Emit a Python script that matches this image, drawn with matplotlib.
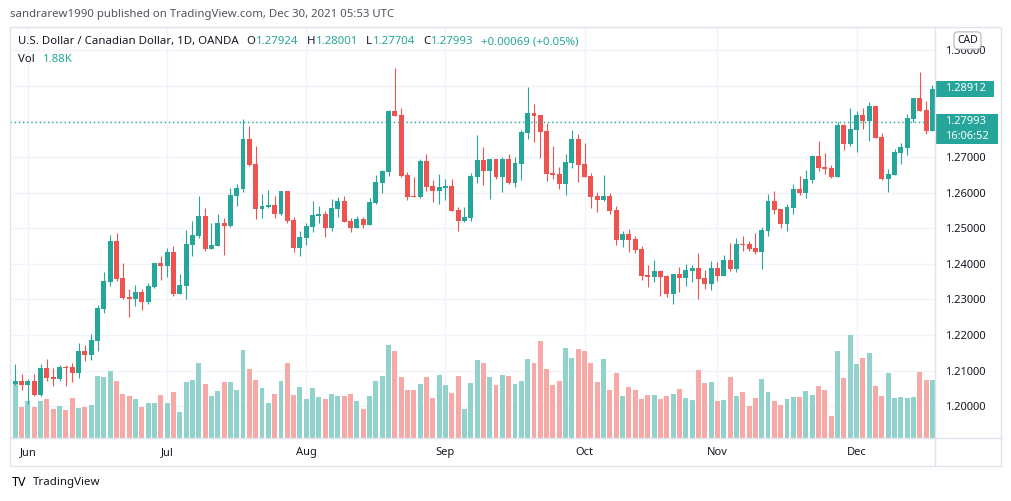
import numpy as np
import pandas as pd
import matplotlib
matplotlib.use('Agg')
import matplotlib.pyplot as plt
from matplotlib.transforms import blended_transform_factory
from matplotlib.offsetbox import DrawingArea, AnnotationBbox
from matplotlib.patches import Rectangle
from matplotlib.lines import Line2D
from matplotlib.text import Text, Annotation

plt.rcParams['font.family'] = ['Noto Sans', 'DejaVu Sans']

# USD/CAD daily, OANDA
opens = [1.2123, 1.2062, 1.2071, 1.2059, 1.2071, 1.2031, 1.2107, 1.2082, 1.2076, 1.2110,
         1.2110, 1.2093, 1.2155, 1.2144, 1.2183, 1.2273, 1.2349, 1.2464, 1.2360, 1.2307,
         1.2301, 1.2321, 1.2293, 1.2335, 1.2402, 1.2394, 1.2433, 1.2315, 1.2338, 1.2453,
         1.2478, 1.2534, 1.2441, 1.2450, 1.2515, 1.2506, 1.2590, 1.2610, 1.2751, 1.2680,
         1.2554, 1.2559, 1.2565, 1.2540, 1.2604, 1.2523, 1.2444, 1.2472, 1.2503, 1.2534,
         1.2540, 1.2500, 1.2554, 1.2576, 1.2520, 1.2500, 1.2526, 1.2509, 1.2571, 1.2627,
         1.2658, 1.2829, 1.2818, 1.2649, 1.2590, 1.2588, 1.2689, 1.2619, 1.2604, 1.2613,
         1.2619, 1.2551, 1.2520, 1.2529, 1.2644, 1.2692, 1.2661, 1.2694, 1.2644, 1.2694,
         1.2627, 1.2680, 1.2767, 1.2824, 1.2818, 1.2773, 1.2655, 1.2652, 1.2624, 1.2683,
         1.2751, 1.2680, 1.2647, 1.2590, 1.2579, 1.2590, 1.2551, 1.2467, 1.2484, 1.2470,
         1.2441, 1.2368, 1.2363, 1.2380, 1.2366, 1.2315, 1.2371, 1.2360, 1.2380, 1.2388,
         1.2360, 1.2343, 1.2388, 1.2366, 1.2411, 1.2385, 1.2456, 1.2456, 1.2444, 1.2433,
         1.2492, 1.2576, 1.2554, 1.2512, 1.2557, 1.2610, 1.2599, 1.2635, 1.2703, 1.2672,
         1.2669, 1.2644, 1.2790, 1.2737, 1.2776, 1.2818, 1.2801, 1.2843, 1.2756, 1.2638,
         1.2649, 1.2711, 1.2725, 1.2807, 1.2866, 1.2832, 1.2773]
highs = [1.2135, 1.2118, 1.2090, 1.2076, 1.2090, 1.2118, 1.2132, 1.2107, 1.2116, 1.2116,
         1.2121, 1.2177, 1.2172, 1.2203, 1.2284, 1.2377, 1.2481, 1.2486, 1.2402, 1.2329,
         1.2340, 1.2329, 1.2346, 1.2402, 1.2422, 1.2444, 1.2450, 1.2371, 1.2495, 1.2520,
         1.2590, 1.2557, 1.2515, 1.2540, 1.2529, 1.2613, 1.2624, 1.2807, 1.2787, 1.2731,
         1.2596, 1.2607, 1.2590, 1.2604, 1.2604, 1.2531, 1.2492, 1.2515, 1.2576, 1.2562,
         1.2548, 1.2582, 1.2588, 1.2590, 1.2529, 1.2534, 1.2531, 1.2585, 1.2649, 1.2663,
         1.2832, 1.2950, 1.2838, 1.2658, 1.2644, 1.2694, 1.2708, 1.2635, 1.2652, 1.2638,
         1.2638, 1.2559, 1.2559, 1.2655, 1.2762, 1.2728, 1.2694, 1.2694, 1.2700, 1.2708,
         1.2700, 1.2776, 1.2897, 1.2849, 1.2818, 1.2796, 1.2731, 1.2672, 1.2708, 1.2776,
         1.2765, 1.2739, 1.2655, 1.2602, 1.2649, 1.2599, 1.2562, 1.2492, 1.2498, 1.2478,
         1.2450, 1.2397, 1.2411, 1.2382, 1.2368, 1.2371, 1.2391, 1.2399, 1.2397, 1.2430,
         1.2382, 1.2408, 1.2405, 1.2425, 1.2458, 1.2472, 1.2478, 1.2464, 1.2486, 1.2503,
         1.2596, 1.2604, 1.2554, 1.2568, 1.2624, 1.2647, 1.2663, 1.2706, 1.2745, 1.2711,
         1.2678, 1.2798, 1.2793, 1.2838, 1.2829, 1.2838, 1.2855, 1.2843, 1.2767, 1.2666,
         1.2722, 1.2739, 1.2821, 1.2866, 1.2939, 1.2857, 1.2902]
lows = [1.2057, 1.2059, 1.2045, 1.2006, 1.2028, 1.2028, 1.2071, 1.2057, 1.2071, 1.2057,
        1.2068, 1.2079, 1.2127, 1.2130, 1.2155, 1.2262, 1.2338, 1.2352, 1.2301, 1.2250,
        1.2281, 1.2270, 1.2287, 1.2332, 1.2354, 1.2363, 1.2309, 1.2315, 1.2301, 1.2422,
        1.2472, 1.2436, 1.2441, 1.2450, 1.2425, 1.2503, 1.2562, 1.2602, 1.2675, 1.2526,
        1.2529, 1.2557, 1.2529, 1.2537, 1.2515, 1.2433, 1.2422, 1.2453, 1.2489, 1.2515,
        1.2475, 1.2492, 1.2531, 1.2517, 1.2489, 1.2500, 1.2500, 1.2509, 1.2568, 1.2599,
        1.2647, 1.2815, 1.2644, 1.2579, 1.2588, 1.2585, 1.2604, 1.2574, 1.2568, 1.2579,
        1.2548, 1.2492, 1.2517, 1.2520, 1.2627, 1.2621, 1.2582, 1.2638, 1.2602, 1.2624,
        1.2616, 1.2635, 1.2751, 1.2742, 1.2697, 1.2633, 1.2638, 1.2610, 1.2593, 1.2669,
        1.2630, 1.2644, 1.2557, 1.2545, 1.2576, 1.2540, 1.2453, 1.2447, 1.2433, 1.2430,
        1.2354, 1.2335, 1.2349, 1.2309, 1.2307, 1.2287, 1.2321, 1.2338, 1.2349, 1.2301,
        1.2329, 1.2326, 1.2352, 1.2366, 1.2380, 1.2377, 1.2436, 1.2436, 1.2427, 1.2385,
        1.2478, 1.2540, 1.2500, 1.2492, 1.2540, 1.2593, 1.2585, 1.2627, 1.2661, 1.2652,
        1.2641, 1.2644, 1.2720, 1.2731, 1.2714, 1.2779, 1.2745, 1.2753, 1.2635, 1.2602,
        1.2649, 1.2680, 1.2706, 1.2798, 1.2829, 1.2765, 1.2773]
closes = [1.2062, 1.2071, 1.2059, 1.2071, 1.2031, 1.2107, 1.2079, 1.2076, 1.2110, 1.2107,
          1.2093, 1.2155, 1.2144, 1.2186, 1.2276, 1.2352, 1.2464, 1.2357, 1.2304, 1.2301,
          1.2321, 1.2293, 1.2338, 1.2402, 1.2394, 1.2433, 1.2315, 1.2340, 1.2456, 1.2481,
          1.2534, 1.2441, 1.2453, 1.2515, 1.2506, 1.2593, 1.2613, 1.2751, 1.2678, 1.2554,
          1.2562, 1.2565, 1.2540, 1.2604, 1.2520, 1.2444, 1.2475, 1.2506, 1.2537, 1.2540,
          1.2500, 1.2557, 1.2576, 1.2517, 1.2500, 1.2526, 1.2509, 1.2574, 1.2630, 1.2661,
          1.2829, 1.2815, 1.2647, 1.2588, 1.2588, 1.2689, 1.2616, 1.2604, 1.2616, 1.2619,
          1.2548, 1.2520, 1.2531, 1.2647, 1.2692, 1.2661, 1.2694, 1.2644, 1.2694, 1.2627,
          1.2683, 1.2770, 1.2824, 1.2815, 1.2770, 1.2652, 1.2649, 1.2624, 1.2686, 1.2751,
          1.2678, 1.2644, 1.2588, 1.2579, 1.2590, 1.2548, 1.2467, 1.2484, 1.2467, 1.2439,
          1.2366, 1.2363, 1.2380, 1.2363, 1.2315, 1.2371, 1.2360, 1.2382, 1.2388, 1.2357,
          1.2343, 1.2388, 1.2366, 1.2411, 1.2385, 1.2456, 1.2453, 1.2441, 1.2433, 1.2495,
          1.2576, 1.2551, 1.2512, 1.2559, 1.2610, 1.2599, 1.2638, 1.2703, 1.2669, 1.2666,
          1.2644, 1.2790, 1.2737, 1.2779, 1.2818, 1.2801, 1.2843, 1.2753, 1.2638, 1.2652,
          1.2714, 1.2728, 1.2810, 1.2866, 1.2829, 1.2773, 1.2891]
# volume, thousands
volumes = [88, 110, 62, 74, 62, 74, 78, 58, 64, 56, 80, 60, 62, 66, 124, 122, 134, 114, 88, 84,
           78, 62, 70, 70, 86, 70, 92, 52, 112, 116, 150, 108, 84, 94, 112, 112, 96, 176, 138, 116,
           100, 70, 88, 114, 150, 86, 102, 78, 100, 82, 78, 88, 84, 84, 88, 74, 58, 84, 114, 124,
           186, 174, 122, 96, 96, 108, 122, 80, 126, 106, 90, 124, 58, 110, 156, 150, 122, 106, 126, 124,
           108, 114, 158, 150, 194, 138, 106, 114, 180, 160, 178, 174, 150, 112, 158, 96, 130, 84, 102, 96,
           78, 86, 86, 78, 84, 88, 98, 80, 76, 136, 110, 112, 74, 76, 122, 84, 92, 64, 80, 118,
           92, 74, 66, 78, 82, 82, 94, 86, 104, 96, 44, 174, 120, 206, 148, 160, 170, 104, 84, 130,
           80, 82, 80, 82, 132, 116, 116]
dates = pd.bdate_range('2021-05-27', periods=len(closes))

# current (Dec 30) bar shown in the legend
cur_ohlc = ['1.27924', '1.28001', '1.27704', '1.27993']
cur_change = '+0.00069 (+0.05%)'
cur_vol = '1.88K'
last_close = 1.27993
last_visible = 1.28912

TEAL = '#26a69a'
RED = '#ef5350'
VOL_UP = '#92d2cc'
VOL_DN = '#f7a9a7'
GRID = '#f0f3fa'
FRAME = '#e0e3eb'
TXT = '#131722'
FS = 8.2

W, H = 1012, 501
fig = plt.figure(figsize=(W / 100, H / 100), dpi=100)


def fx(px):
    return px / W


def fy(py):
    return 1 - py / H


o = np.array(opens)
hi = np.array(highs)
lo = np.array(lows)
c = np.array(closes)
x = np.arange(len(c))
up = c >= o

ax_vol = fig.add_axes([fx(10), fy(437.7), (935 - 10) / W, (437.7 - 26.7) / H])
ax = ax_vol.twinx()

# month starts
month_pos = [i for i in range(1, len(dates)) if dates[i].month != dates[i - 1].month]
month_lab = [dates[i].strftime('%b') for i in month_pos]

price_ticks = np.round(np.arange(1.20, 1.3001, 0.01), 2)

# grid (under volume)
tr = blended_transform_factory(ax_vol.transAxes, ax.transData)
for p in price_ticks:
    ax_vol.add_line(Line2D([0, 1], [p, p], transform=tr, color=GRID, lw=1, zorder=0))
for m in month_pos:
    ax_vol.axvline(m, color=GRID, lw=1, zorder=0)

ax_vol.bar(x, volumes, width=0.78, color=np.where(up, VOL_UP, VOL_DN), lw=0, zorder=2)
ax_vol.set_ylim(0, 822)
ax_vol.set_yticks([])
ax_vol.set_xticks(month_pos, month_lab)
ax_vol.tick_params(axis='x', length=0, pad=6.5, labelsize=8, labelcolor=TXT)

# candles
cols = np.where(up, TEAL, RED)
ax.vlines(x, lo, hi, colors=cols, lw=0.8, zorder=3)
ax.bar(x, np.maximum(np.abs(c - o), 0.0003), bottom=np.minimum(o, c), width=0.78,
       color=cols, lw=0, zorder=4)
ax.axhline(last_close, color=TEAL, lw=1, ls=(0, (1, 2)), zorder=5)

ax.set_xlim(0.16, 146.4)
ax.set_ylim(1.19115, 1.3066)
ax.set_yticks(price_ticks, ['%.5f' % p for p in price_ticks])
ax.tick_params(axis='y', length=0, pad=7.2, labelsize=8, labelcolor=TXT)
for a in (ax, ax_vol):
    for s in a.spines.values():
        s.set_visible(False)


def price_tag(price, lines, w, h, first_h):
    k = 72 / fig.dpi
    da = DrawingArea(w * k, h * k, 0, 0)
    da.add_artist(Rectangle((0, 0), w * k, h * k, fc=TEAL, ec='none'))
    for j, s in enumerate(lines):
        yc = h - first_h / 2 - j * 14.5
        da.add_artist(Text(10 * k, yc * k, s, color='white', fontsize=8,
                           fontweight='bold' if j == 0 else 'normal',
                           va='center', ha='left'))
    ab = AnnotationBbox(da, (1.0, price),
                        xycoords=blended_transform_factory(ax.transAxes, ax.transData),
                        box_alignment=(0, 1 - first_h / 2 / h), frameon=False, pad=0,
                        annotation_clip=False, zorder=10)
    ax.add_artist(ab)


price_tag(last_visible, ['%.5f' % last_visible], 59, 15.6, 15.6)
price_tag(last_close, ['%.5f' % last_close, '16:06:52'], 63, 30, 15.2)

# frame
fig.add_artist(Rectangle((fx(10), fy(466)), (1001 - 10) / W, (466 - 26.7) / H,
                         transform=fig.transFigure, fill=False, ec=FRAME, lw=1))
fig.add_artist(Line2D([fx(935), fx(935)], [fy(26.7), fy(466)],
                      transform=fig.transFigure, color=FRAME, lw=1))
fig.add_artist(Line2D([fx(10), fx(1001)], [fy(437.7), fy(437.7)],
                      transform=fig.transFigure, color=FRAME, lw=1))

fig.text(fx(967.5), fy(40.5), 'CAD', ha='center', va='center', fontsize=7.5, color=TXT,
         bbox=dict(boxstyle='round,pad=0.3,rounding_size=0.4', fc='white', ec='#b2b5be', lw=0.8),
         zorder=20)

# header
fig.text(fx(10), fy(15), 'sandrarew1990 published on TradingView.com, Dec 30, 2021 05:53 UTC',
         va='center', fontsize=FS, color='#50535e')


def legend_line(x0, y0, parts):
    # each piece placed right after the previous one
    prev = fig.text(fx(x0), fy(y0), parts[0][0], color=parts[0][1], fontsize=FS, va='center')
    for s, col, gap in parts[1:]:
        prev = fig.add_artist(Annotation(
            s, xy=(1, 0), xycoords=prev, xytext=(gap, 0), textcoords='offset points',
            va='bottom', ha='left', color=col, fontsize=FS, annotation_clip=False))


legend_line(18.3, 41.7, [('U.S. Dollar / Canadian Dollar, 1D, OANDA', TXT, 0),
                         ('O', TXT, 5.3), (cur_ohlc[0], TEAL, 0.5),
                         ('H', TXT, 5.8), (cur_ohlc[1], TEAL, 0.5),
                         ('L', TXT, 5.8), (cur_ohlc[2], TEAL, 0.5),
                         ('C', TXT, 5.8), (cur_ohlc[3], TEAL, 0.5),
                         (cur_change, TEAL, 5.0)])
legend_line(18.3, 59, [('Vol', TXT, 0), (cur_vol, TEAL, 5.5)])

fig.text(fx(12), fy(483), 'TV', fontsize=9, fontweight='bold', color='black', va='center')
fig.text(fx(33), fy(483), 'TradingView', fontsize=8.3, color=TXT, va='center')

fig.savefig('out.png', dpi=100, facecolor='white')
